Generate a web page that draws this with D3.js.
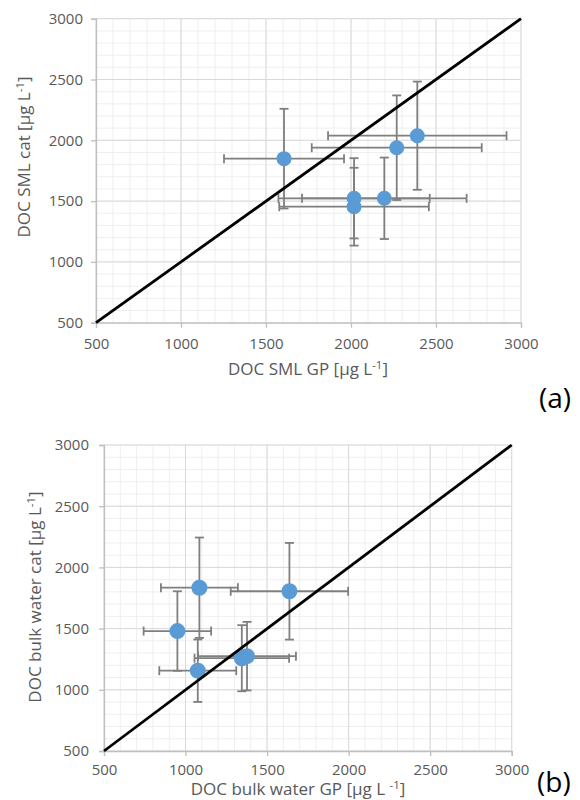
<!DOCTYPE html>
<html><head><meta charset="utf-8">
<script src="https://cdn.jsdelivr.net/npm/d3@7"></script>
<style>
html,body{margin:0;padding:0;background:#fff;}
svg{display:block;}
text{font-family:"Open Sans",sans-serif;}
</style></head>
<body>
<svg id="c" width="580" height="800"></svg>
<script>
// ---- data ----
const axisTicks = [500, 1000, 1500, 2000, 2500, 3000];
const minorTicks = d3.range(500, 3001, 100);
const identityLine = [500, 3000];

// panel (a): SML
const smlGP     = [1606, 2269, 2390, 2018, 2018, 2196];
const smlGPerr  = [353, 500, 525, 445, 440, 484];
const smlCat    = [1849, 1939, 2038, 1523, 1454, 1523];
const smlCatErr = [410, 430, 445, 330, 320, 335];

// panel (b): bulk water
const bulkGP     = [1085, 1637, 950, 1075, 1345, 1377];
const bulkGPerr  = [236, 360, 207, 236, 290, 300];
const bulkCat    = [1834, 1805, 1480, 1156, 1258, 1275];
const bulkCatErr = [410, 395, 325, 255, 270, 280];

const svg = d3.select("#c");

function panel(opt) {
  const x = d3.scaleLinear().domain([500, 3000]).range(opt.xr);
  const y = d3.scaleLinear().domain([500, 3000]).range(opt.yr);
  const g = svg.append("g");

  // minor grid
  g.append("g").selectAll("line.mx").data(minorTicks).join("line")
    .attr("x1", d => x(d)).attr("x2", d => x(d))
    .attr("y1", opt.yr[1]).attr("y2", opt.yr[0])
    .attr("stroke", "#efefef").attr("stroke-width", 1);
  g.append("g").selectAll("line.my").data(minorTicks).join("line")
    .attr("y1", d => y(d)).attr("y2", d => y(d))
    .attr("x1", opt.xr[0]).attr("x2", opt.xr[1])
    .attr("stroke", "#efefef").attr("stroke-width", 1);
  // major grid
  g.append("g").selectAll("line").data(axisTicks).join("line")
    .attr("x1", d => x(d)).attr("x2", d => x(d))
    .attr("y1", opt.yr[1]).attr("y2", opt.yr[0])
    .attr("stroke", "#d9d9d9").attr("stroke-width", 1);
  g.append("g").selectAll("line").data(axisTicks).join("line")
    .attr("y1", d => y(d)).attr("y2", d => y(d))
    .attr("x1", opt.xr[0]).attr("x2", opt.xr[1])
    .attr("stroke", "#d9d9d9").attr("stroke-width", 1);

  // axes
  const xa = g.append("g").attr("transform", `translate(0,${opt.yr[0]})`)
    .call(d3.axisBottom(x).tickValues(axisTicks).tickSize(5).tickPadding(opt.xPad).tickFormat(d3.format("d")));
  const ya = g.append("g").attr("transform", `translate(${opt.xr[0]},0)`)
    .call(d3.axisLeft(y).tickValues(axisTicks).tickSize(5).tickPadding(opt.yPad).tickFormat(d3.format("d")));
  [xa, ya].forEach(a => {
    a.select(".domain").attr("stroke", "#bfbfbf").attr("stroke-width", 1.3);
    a.selectAll(".tick line").attr("stroke", "#bfbfbf").attr("stroke-width", 1.3);
    a.selectAll(".tick text").attr("fill", "#595959").attr("font-size", 15)
      .attr("font-family", '"Open Sans",sans-serif');
  });

  // error bars
  const cap = 4.5;
  const eb = g.append("g").attr("stroke", "#7f7f7f").attr("stroke-width", 1.8).attr("fill", "none");
  const idx = d3.range(opt.xs.length);
  idx.forEach(i => {
    const cx = x(opt.xs[i]), cy = y(opt.ys[i]);
    const x0 = x(opt.xs[i] - opt.xe[i]), x1 = x(opt.xs[i] + opt.xe[i]);
    const y0 = y(opt.ys[i] - opt.ye[i]), y1 = y(opt.ys[i] + opt.ye[i]);
    eb.append("line").attr("x1", x0).attr("x2", x1).attr("y1", cy).attr("y2", cy);
    eb.append("line").attr("x1", x0).attr("x2", x0).attr("y1", cy - cap).attr("y2", cy + cap);
    eb.append("line").attr("x1", x1).attr("x2", x1).attr("y1", cy - cap).attr("y2", cy + cap);
    eb.append("line").attr("x1", cx).attr("x2", cx).attr("y1", y0).attr("y2", y1);
    eb.append("line").attr("x1", cx - cap).attr("x2", cx + cap).attr("y1", y0).attr("y2", y0);
    eb.append("line").attr("x1", cx - cap).attr("x2", cx + cap).attr("y1", y1).attr("y2", y1);
  });

  // points
  g.append("g").selectAll("circle").data(idx).join("circle")
    .attr("cx", i => x(opt.xs[i])).attr("cy", i => y(opt.ys[i]))
    .attr("r", opt.r).attr("fill", "#5b9bd5");

  // 1:1 line
  g.append("line")
    .attr("x1", x(identityLine[0])).attr("y1", y(identityLine[0]))
    .attr("x2", x(identityLine[1])).attr("y2", y(identityLine[1]))
    .attr("stroke", "#000").attr("stroke-width", 2.8);

  // axis titles
  const xt = g.append("text").attr("x", opt.xTitle[0]).attr("y", opt.xTitle[1])
    .attr("text-anchor", "middle").attr("fill", "#595959").attr("font-size", 17);
  xt.append("tspan").text(opt.xLabel);
  xt.append("tspan").attr("dy", -6).attr("font-size", 11.5).text(opt.sup);
  xt.append("tspan").attr("dy", 6).text("]");

  const yt = g.append("text")
    .attr("transform", `translate(${opt.yTitle[0]},${opt.yTitle[1]}) rotate(-90)`)
    .attr("text-anchor", "middle").attr("fill", "#595959").attr("font-size", 17);
  yt.append("tspan").text(opt.yLabel);
  yt.append("tspan").attr("dy", -6).attr("font-size", 11.5).text("-1");
  yt.append("tspan").attr("dy", 6).text("]");

  svg.append("text").attr("x", opt.tag[0]).attr("y", opt.tag[1])
    .attr("fill", "#000").attr("font-size", 28).text(opt.tagText);
}

panel({
  xr: [96, 521], yr: [322.7, 18.7],
  xs: smlGP, xe: smlGPerr, ys: smlCat, ye: smlCatErr, r: 7.5,
  xPad: 11, yPad: 8,
  xLabel: "DOC SML GP  [µg L", sup: "-1", xTitle: [308, 375],
  yLabel: "DOC SML cat [µg L", yTitle: [30, 157],
  tag: [539, 408], tagText: "(a)"
});

panel({
  xr: [104, 511.7], yr: [751, 445],
  xs: bulkGP, xe: bulkGPerr, ys: bulkCat, ye: bulkCatErr, r: 8,
  xPad: 8, yPad: 10,
  xLabel: "DOC bulk water GP [µg L ", sup: "-1", xTitle: [298, 795],
  yLabel: "DOC bulk water cat [µg L", yTitle: [41, 597],
  tag: [537, 792], tagText: "(b)"
});
</script>
</body></html>
